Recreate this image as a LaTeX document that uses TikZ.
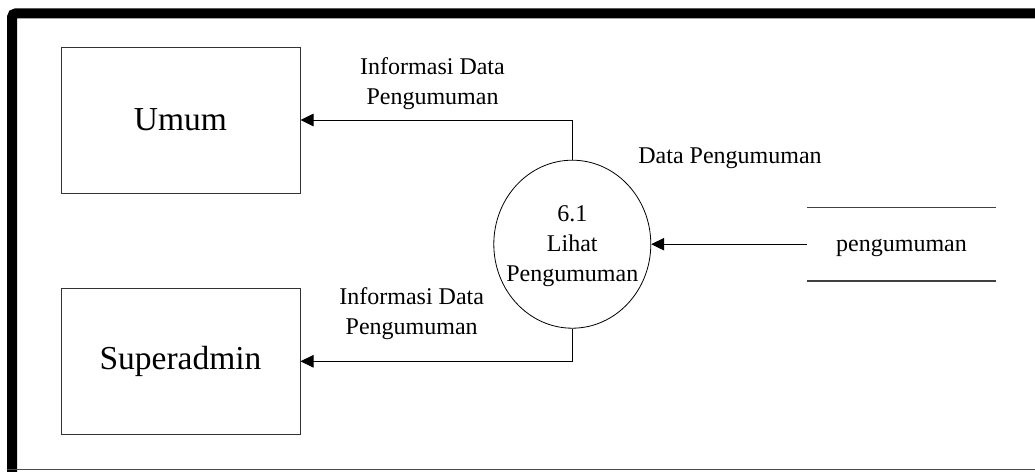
\documentclass[tikz,border=0pt]{standalone}
\usepackage{fontspec}
\setmainfont{Liberation Serif}
\usetikzlibrary{arrows.meta,shapes.geometric}
\begin{document}
\begin{tikzpicture}[x=1pt,y=-1pt,
  entity/.style={draw=black!80, line width=1pt, minimum width=239pt, minimum height=146pt,
    inner sep=0pt, font=\fontsize{33.5}{40}\selectfont},
  procshape/.style={draw, ellipse, line width=0.8pt, minimum width=157pt, minimum height=168pt, inner sep=0pt},
  txt/.style={align=center, font=\fontsize{24}{30}\selectfont, inner sep=0pt},
  storebox/.style={minimum width=189pt, minimum height=73pt, inner sep=0pt,
    text height=20pt, text depth=5pt, font=\fontsize{24}{30}\selectfont},
  storeline/.style={draw=black!75, line width=1.2pt},
  flow/.style={draw, line width=0.9pt, -{Triangle[length=13pt,width=12.5pt]}},
]
\useasboundingbox (0,0) rectangle (1035,471);

% page frame: heavy top and left edges, thin bottom edge
\begin{scope}
  \clip (0,0) rectangle (1035,471);
  \draw[line width=10pt, rounded corners=4pt] (12,480) -- (12,13.3) -- (1045,13.3);
  \draw[line width=1.2pt, black!70] (7,469.7) -- (1040,469.7);
\end{scope}

% external entities
\node[entity] (umum) at (180.5,120) {Umum};
\node[entity] (super) at (180.5,361.3) {Superadmin};

% process
\node[procshape] (proc) at (572.3,244.2) {};
\node[txt] (proclbl) at (572.3,245.8) {6.1\\Lihat\\Pengumuman};

% data store
\node[storebox] (store) at (901.5,244.2) {pengumuman};
\draw[storeline] (store.north west) -- (store.north east);
\draw[storeline] (store.south west) -- (store.south east);

% data flows
\draw[flow] (proc.north) |- (umum.east);
\draw[flow] (proc.south) |- (super.east);
\draw[flow] (store.west) -- (proc.east);

% flow labels
\node[txt] (lblumum) at (432.5,83.4) {Informasi Data\\Pengumuman};
\node[txt] (lblsuper) at (411.7,313.5) {Informasi Data\\Pengumuman};
\node[txt, anchor=base] (lblstore) at (730,163) {Data Pengumuman};
\end{tikzpicture}
\end{document}
